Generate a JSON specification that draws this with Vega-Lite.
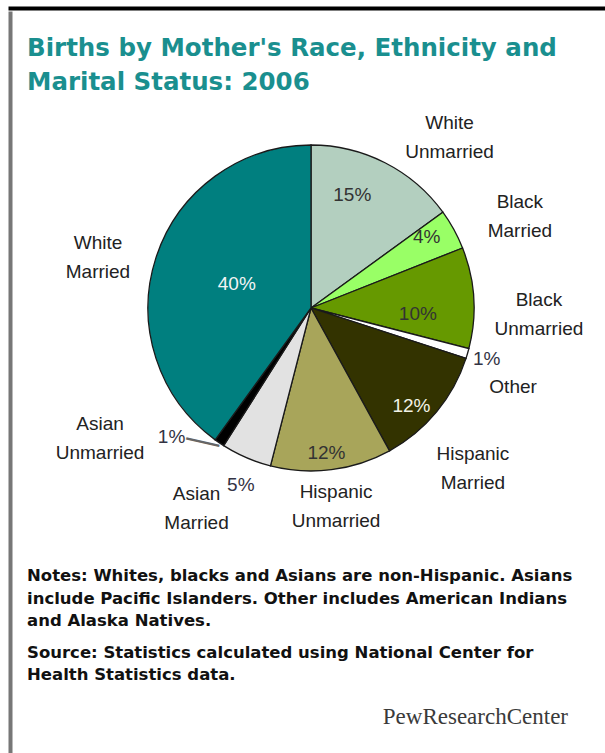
{
  "$schema": "https://vega.github.io/schema/vega-lite/v6.json",
  "padding": {"top": 6, "left": 8, "right": 0, "bottom": 0},
  "background": "white",
  "spacing": 0,
  "config": {
    "view": {"stroke": null},
    "font": "Liberation Sans",
    "text": {"font": "Liberation Sans", "fontSize": 19}
  },
  "vconcat": [
    {
      "width": 605,
      "height": 1,
      "data": {"values": []},
      "mark": "point",
      "view": {"stroke": "#000000", "strokeWidth": 3}
    },
    {
      "spacing": 14,
      "hconcat": [
        {
          "width": 1,
          "height": 746,
          "data": {"values": []},
          "mark": "point",
          "view": {"stroke": "#777777", "strokeWidth": 3}
        },
        {
          "spacing": 40,
          "bounds": "flush",
          "vconcat": [
            {
              "width": 568,
              "height": 0,
              "data": {"values": []},
              "mark": "point",
              "title": {
                "text": ["Births by Mother's Race, Ethnicity and", "Marital Status: 2006"],
                "orient": "bottom",
                "anchor": "start",
                "frame": "group",
                "offset": 4,
                "font": "DejaVu Sans",
                "fontSize": 24.5,
                "fontWeight": "bold",
                "color": "#1a8f8f",
                "lineHeight": 33.5
              }
            },
            {
              "width": 568,
              "height": 470,
              "title": {
                "text": ["Notes: Whites, blacks and Asians are non-Hispanic. Asians", "include Pacific Islanders. Other includes American Indians", "and Alaska Natives."],
                "subtitle": ["Source: Statistics calculated using National Center for", "Health Statistics data."],
                "orient": "bottom",
                "anchor": "start",
                "frame": "group",
                "offset": 25,
                "font": "DejaVu Sans",
                "fontSize": 16.5,
                "fontWeight": "bold",
                "color": "#111111",
                "lineHeight": 22.5,
                "subtitleFont": "DejaVu Sans",
                "subtitleFontSize": 16.5,
                "subtitleFontWeight": "bold",
                "subtitleColor": "#111111",
                "subtitleLineHeight": 22.5,
                "subtitlePadding": 15
              },
              "data": {
                "values": [
                  {"group": "White Unmarried", "share": 0.15, "seq": 1},
                  {"group": "Black Married", "share": 0.04, "seq": 2},
                  {"group": "Black Unmarried", "share": 0.10, "seq": 3},
                  {"group": "Other", "share": 0.01, "seq": 4},
                  {"group": "Hispanic Married", "share": 0.12, "seq": 5},
                  {"group": "Hispanic Unmarried", "share": 0.12, "seq": 6},
                  {"group": "Asian Married", "share": 0.05, "seq": 7},
                  {"group": "Asian Unmarried", "share": 0.01, "seq": 8},
                  {"group": "White Married", "share": 0.40, "seq": 9}
                ]
              },
              "encoding": {
                "theta": {"field": "share", "type": "quantitative", "stack": true},
                "order": {"field": "seq", "type": "quantitative"},
                "detail": {"field": "group", "type": "nominal"}
              },
              "layer": [
                {
                  "mark": {"type": "arc", "outerRadius": 163, "stroke": "#1a1a1a", "strokeWidth": 1.3},
                  "encoding": {
                    "color": {
                      "field": "group",
                      "type": "nominal",
                      "legend": null,
                      "scale": {
                        "domain": ["White Unmarried", "Black Married", "Black Unmarried", "Other", "Hispanic Married", "Hispanic Unmarried", "Asian Married", "Asian Unmarried", "White Married"],
                        "range": ["#b3cfbf", "#99ff66", "#669900", "#ffffff", "#333300", "#a8a55a", "#e2e2e2", "#000000", "#007f7f"]
                      }
                    }
                  }
                },
                {
                  "mark": {"type": "text", "radius": 228, "thetaOffset": 0.09, "lineBreak": " ", "lineHeight": 29, "dy": -14.5, "align": "center", "baseline": "middle", "fill": "#222222"},
                  "encoding": {
                    "text": {
                      "condition": {"test": "indexof(['Black Married','Black Unmarried','Hispanic Married'], datum.group) >= 0", "field": "group"},
                      "value": ""
                    }
                  }
                },
                {
                  "mark": {"type": "text", "radius": 231, "thetaOffset": 0.11, "lineBreak": " ", "lineHeight": 29, "dy": -14.5, "align": "center", "baseline": "middle", "fill": "#222222"},
                  "encoding": {
                    "text": {"condition": {"test": "datum.group === 'Asian Married'", "field": "group"}, "value": ""}
                  }
                },
                {
                  "mark": {"type": "text", "radius": 217, "thetaOffset": 0.09, "align": "center", "baseline": "middle", "fill": "#222222"},
                  "encoding": {
                    "text": {"condition": {"test": "datum.group === 'Other'", "field": "group"}, "value": ""}
                  }
                },
                {
                  "mark": {"type": "text", "radius": 219, "thetaOffset": -0.08, "lineBreak": " ", "lineHeight": 29, "dy": -14.5, "align": "center", "baseline": "middle", "fill": "#222222"},
                  "encoding": {
                    "text": {"condition": {"test": "datum.group === 'White Married'", "field": "group"}, "value": ""}
                  }
                },
                {
                  "mark": {"type": "text", "radius": 200, "lineBreak": " ", "lineHeight": 29, "dy": -14.5, "align": "center", "baseline": "middle", "fill": "#222222"},
                  "encoding": {
                    "text": {"condition": {"test": "datum.group === 'Hispanic Unmarried'", "field": "group"}, "value": ""}
                  }
                },
                {
                  "mark": {"type": "text", "radius": 220, "thetaOffset": 0.21, "lineBreak": " ", "lineHeight": 29, "dy": -14.5, "align": "center", "baseline": "middle", "fill": "#222222"},
                  "encoding": {
                    "text": {"condition": {"test": "datum.group === 'White Unmarried'", "field": "group"}, "value": ""}
                  }
                },
                {
                  "mark": {"type": "text", "radius": 248, "thetaOffset": 0.42, "lineBreak": " ", "lineHeight": 29, "dy": -14.5, "align": "center", "baseline": "middle", "fill": "#222222"},
                  "encoding": {
                    "text": {"condition": {"test": "datum.group === 'Asian Unmarried'", "field": "group"}, "value": ""}
                  }
                },
                {
                  "mark": {"type": "text", "radius": 120, "thetaOffset": -0.12, "align": "center", "baseline": "middle", "fill": "#333333"},
                  "encoding": {
                    "text": {"condition": {"test": "datum.group === 'White Unmarried'", "field": "share", "format": ".0%"}, "value": ""}
                  }
                },
                {
                  "mark": {"type": "text", "radius": 136, "thetaOffset": -0.05, "align": "center", "baseline": "middle", "fill": "#333333"},
                  "encoding": {
                    "text": {"condition": {"test": "datum.group === 'Black Married'", "field": "share", "format": ".0%"}, "value": ""}
                  }
                },
                {
                  "mark": {"type": "text", "radius": 107, "thetaOffset": 0.12, "align": "center", "baseline": "middle", "fill": "#333333"},
                  "encoding": {
                    "text": {"condition": {"test": "datum.group === 'Black Unmarried'", "field": "share", "format": ".0%"}, "value": ""}
                  }
                },
                {
                  "mark": {"type": "text", "radius": 140, "thetaOffset": 0.08, "align": "center", "baseline": "middle", "fill": "#f2f2e6"},
                  "encoding": {
                    "text": {"condition": {"test": "datum.group === 'Hispanic Married'", "field": "share", "format": ".0%"}, "value": ""}
                  }
                },
                {
                  "mark": {"type": "text", "radius": 146, "thetaOffset": 0.02, "align": "center", "baseline": "middle", "fill": "#333333"},
                  "encoding": {
                    "text": {"condition": {"test": "datum.group === 'Hispanic Unmarried'", "field": "share", "format": ".0%"}, "value": ""}
                  }
                },
                {
                  "mark": {"type": "text", "radius": 78, "align": "center", "baseline": "middle", "fill": "#f4f4f4"},
                  "encoding": {
                    "text": {"condition": {"test": "datum.group === 'White Married'", "field": "share", "format": ".0%"}, "value": ""}
                  }
                },
                {
                  "mark": {"type": "text", "radius": 183, "align": "center", "baseline": "middle", "fill": "#333344"},
                  "encoding": {
                    "text": {"condition": {"test": "datum.group === 'Other'", "field": "share", "format": ".0%"}, "value": ""}
                  }
                },
                {
                  "mark": {"type": "text", "radius": 190, "thetaOffset": -0.03, "align": "center", "baseline": "middle", "fill": "#333344"},
                  "encoding": {
                    "text": {"condition": {"test": "datum.group === 'Asian Married'", "field": "share", "format": ".0%"}, "value": ""}
                  }
                },
                {
                  "mark": {"type": "text", "radius": 190, "thetaOffset": 0.227, "align": "center", "baseline": "middle", "fill": "#333344"},
                  "encoding": {
                    "text": {"condition": {"test": "datum.group === 'Asian Unmarried'", "field": "share", "format": ".0%"}, "value": ""}
                  }
                },
                {
                  "mark": {"type": "text", "radius": 173, "thetaOffset": 0.08, "angle": 13, "fontSize": 34, "align": "center", "baseline": "middle", "dy": -2, "fill": "#666666"},
                  "encoding": {
                    "text": {"condition": {"test": "datum.group === 'Asian Unmarried'", "value": "—"}, "value": ""}
                  }
                }
              ]
            },
            {
              "width": 541,
              "height": 0,
              "data": {"values": []},
              "mark": "point",
              "title": {
                "text": "PewResearchCenter",
                "orient": "bottom",
                "anchor": "end",
                "frame": "group",
                "offset": 103,
                "font": "Liberation Serif",
                "fontSize": 23,
                "fontWeight": "normal",
                "color": "#3a3a3a"
              }
            }
          ]
        }
      ]
    }
  ]
}
